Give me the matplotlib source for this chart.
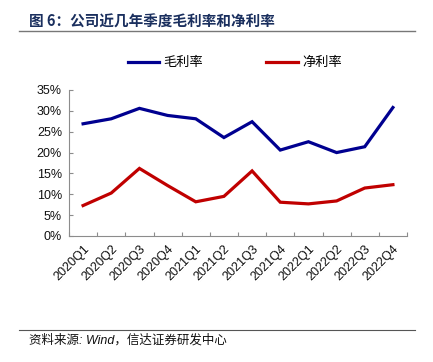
import matplotlib
matplotlib.use("Agg")
from matplotlib import pyplot as plt
from matplotlib.lines import Line2D

plt.rcParams['font.family'] = ['Liberation Sans', 'Noto Sans CJK SC', 'DejaVu Sans']

quarters = ['2020Q1', '2020Q2', '2020Q3', '2020Q4',
            '2021Q1', '2021Q2', '2021Q3', '2021Q4',
            '2022Q1', '2022Q2', '2022Q3', '2022Q4']
gross_margin = [26.9, 28.1, 30.6, 28.9, 28.1, 23.6, 27.4, 20.6, 22.6, 20.0, 21.4, 30.8]
net_margin = [7.3, 10.3, 16.2, 12.1, 8.2, 9.5, 15.6, 8.1, 7.7, 8.4, 11.5, 12.3]
y_ticks = [0, 5, 10, 15, 20, 25, 30, 35]

BLUE = '#000090'
RED = '#C00000'
GREY = '#8c8c8c'
W, H = 433, 362

fig = plt.figure(figsize=(W / 100, H / 100), dpi=100)
ax = fig.add_axes([69 / W, 1 - 236 / H, (407 - 69) / W, (236 - 90) / H])

x = list(range(len(quarters)))
ax.plot(x, gross_margin, color=BLUE, lw=2.3, label='毛利率', solid_joinstyle='miter')
ax.plot(x, net_margin, color=RED, lw=2.3, label='净利率', solid_joinstyle='miter')

ax.set_xlim(-0.5, len(quarters) - 0.5)
ax.set_ylim(0, 35)
ax.set_yticks(y_ticks)
ax.set_yticklabels([f'{v}%' for v in y_ticks], fontsize=9, color='#111111')
ax.set_xticks([i - 0.5 for i in range(len(quarters) + 1)])
ax.set_xticklabels([])
ax.set_xticks(x, minor=True)
ax.set_xticklabels(quarters, minor=True, rotation=45, ha='right',
                   rotation_mode='anchor', fontsize=9, color='#111111')
ax.tick_params(axis='x', which='minor', length=0, pad=5)
ax.tick_params(axis='both', which='major', direction='in', length=3,
               color=GREY, width=0.8)
ax.tick_params(axis='y', pad=5)

for side in ('top', 'right'):
    ax.spines[side].set_visible(False)
for side in ('left', 'bottom'):
    ax.spines[side].set_color(GREY)
    ax.spines[side].set_linewidth(0.8)

ax.legend(loc='lower center', bbox_to_anchor=(0.49, 1.06), ncol=2,
          frameon=False, handlelength=2.4, handletextpad=0.3,
          columnspacing=4.8,
          prop={'family': ['Noto Sans CJK SC'], 'size': 9.5})

# title and rules
fig.text(29 / W, 1 - 22 / H, '图 6：公司近几年季度毛利率和净利率',
         family=['Noto Sans CJK SC'], fontsize=10.5, fontweight='bold',
         color='#1a2f5e', va='center', ha='left')
fig.add_artist(Line2D([19 / W, 415 / W], [1 - 31 / H, 1 - 31 / H],
                      color='#777777', lw=1))
fig.add_artist(Line2D([19 / W, 415 / W], [1 - 330 / H, 1 - 330 / H],
                      color='#555555', lw=0.8))
fig.text(29 / W, 1 - 340 / H, '资料来源: Wind，信达证券研发中心',
         family=['Liberation Sans', 'Noto Sans CJK SC'], fontsize=9,
         style='italic', color='#111111', va='center', ha='left')

fig.savefig('out.png', dpi=100)
